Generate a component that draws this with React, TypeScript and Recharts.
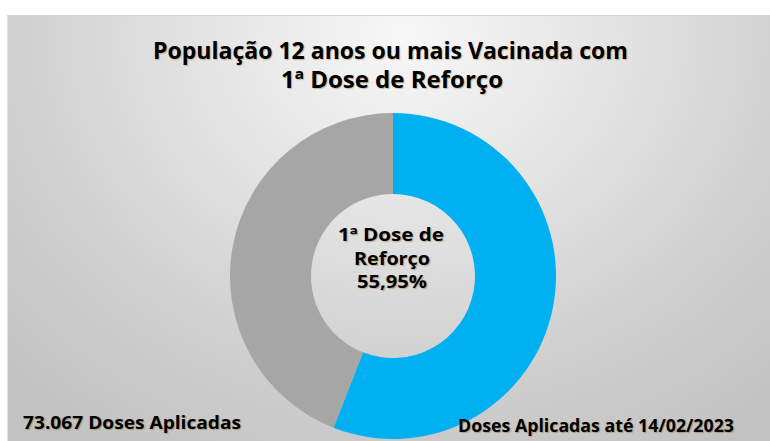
import React from 'react';
import { PieChart, Pie, Cell } from 'recharts';

const sliceNames = ['1ª Dose de Reforço', 'Restante'];
const sliceValues = [55.95, 44.05];
const sliceColors = ['#00B0F0', '#A6A6A6'];
const titleLines = ['População 12 anos ou mais Vacinada com', '1ª Dose de Reforço'];
const centerLines = ['1ª Dose de', 'Reforço', '55,95%'];
const footLeft = '73.067 Doses Aplicadas';
const footRight = 'Doses Aplicadas até 14/02/2023';

const data = sliceNames.map((n, i) => ({ name: n, value: sliceValues[i] }));

const W = 770;
const H = 441;
const FONT = '"Open Sans", "Noto Sans", sans-serif';

export default function App() {
  return (
    <div style={{ position: 'absolute', left: 0, top: 0, width: W, height: H, background: '#ffffff', overflow: 'hidden' }}>
      <div
        style={{
          position: 'absolute',
          left: 7,
          top: 15,
          width: W - 7,
          height: H - 15,
          borderTop: '1px solid #d4d4d4',
          borderLeft: '1px solid #e0e0e0',
          background: 'radial-gradient(ellipse 75% 115% at 52% 5%, #f7f7f7 0%, #e4e4e4 35%, #cfcfcf 70%, #c2c2c2 100%)',
        }}
      />
      <div style={{ position: 'absolute', left: 0, top: 0 }}>
        <PieChart width={W} height={H} margin={{ top: 0, right: 0, bottom: 0, left: 0 }}>
          <Pie
            data={data}
            dataKey="value"
            nameKey="name"
            cx={393}
            cy={276}
            innerRadius={82}
            outerRadius={163}
            startAngle={90}
            endAngle={-270}
            stroke="none"
            isAnimationActive={false}
          >
            {data.map((d, i) => (
              <Cell key={d.name} fill={sliceColors[i]} />
            ))}
          </Pie>
        </PieChart>
      </div>
      <svg width={W} height={H} style={{ position: 'absolute', left: 0, top: 0, pointerEvents: 'none' }}>
        <g fontFamily={FONT} fontWeight="bold" fill="#000" style={{ textShadow: '1px 1px 1px rgba(120,80,0,0.35)' }}>
          <text x={153} y={59} fontSize={23} textLength={475} lengthAdjust="spacingAndGlyphs">{titleLines[0]}</text>
          <text x={281} y={88} fontSize={23} textLength={222} lengthAdjust="spacingAndGlyphs">{titleLines[1]}</text>
          <text x={338} y={241} fontSize={17} textLength={106} lengthAdjust="spacingAndGlyphs">{centerLines[0]}</text>
          <text x={354} y={264.5} fontSize={17} textLength={76} lengthAdjust="spacingAndGlyphs">{centerLines[1]}</text>
          <text x={357} y={288} fontSize={17} textLength={70} lengthAdjust="spacingAndGlyphs">{centerLines[2]}</text>
          <text x={23} y={429} fontSize={18} textLength={218} lengthAdjust="spacingAndGlyphs">{footLeft}</text>
          <text x={458} y={432} fontSize={18} textLength={276} lengthAdjust="spacingAndGlyphs">{footRight}</text>
        </g>
      </svg>
    </div>
  );
}
